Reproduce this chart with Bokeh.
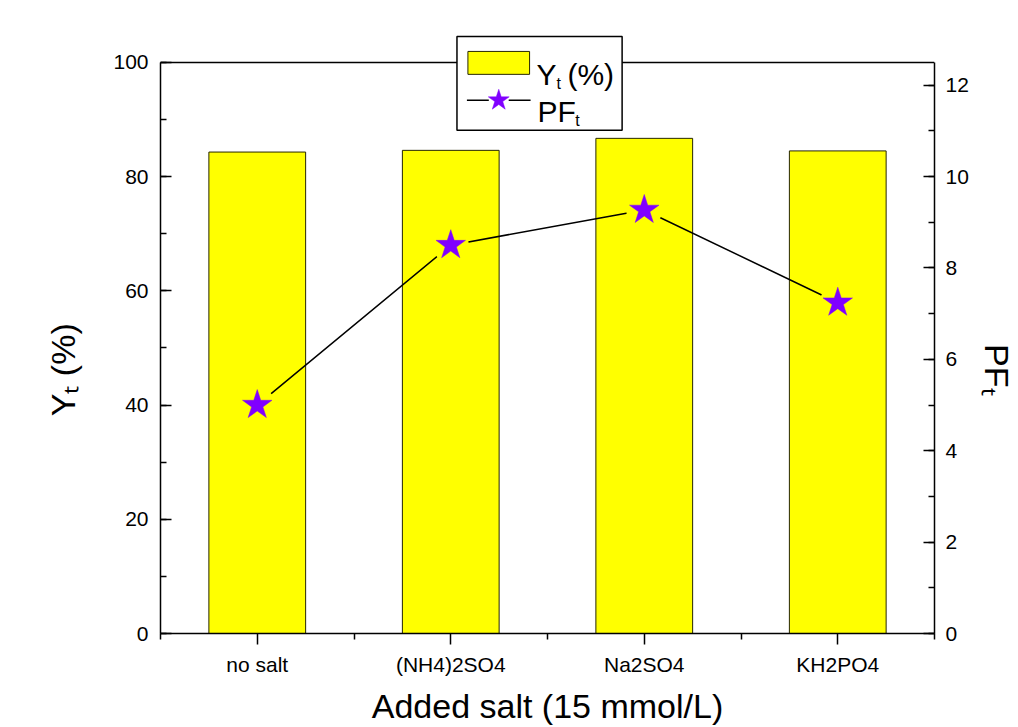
from bokeh.plotting import figure
from bokeh.models import (Range1d, LinearAxis, FixedTicker, ColumnDataSource,
                          SingleIntervalTicker, Span)
from bokeh.embed import file_html
from bokeh.resources import INLINE
from bokeh.core.properties import value

# ---------------- data ----------------
categories = ["no salt", "(NH4)2SO4", "Na2SO4", "KH2PO4"]
yield_pct = [84.3, 84.6, 86.7, 84.5]      # Y_t (%)  - left axis, bars
pf_values = [5.0, 8.5, 9.27, 7.24]         # PF_t     - right axis, stars
left_max = 100
right_max = 12.5
x_title = "Added salt (15 mmol/L)"
y_title = "Y\u209c (%)"
y2_title = "PF\u209c"

# category slots on a numeric axis: slot i spans [i, i+1]
slot_centers = [i + 0.5 for i in range(len(categories))]
slot_edges = list(range(len(categories) + 1))
src = ColumnDataSource(dict(x=slot_centers, cat=categories,
                            y=yield_pct, pf=pf_values))

# ---------------- layout ----------------
FONT = "Liberation Sans"
W, H = 1018, 727
FL, FR, FT, FB = 160, 938, 30, 635          # frame edges on the canvas
top_px = 573                                # px height of 0..left_max
frame_h = FB - FT
y_top = left_max * frame_h / top_px
pf_top = right_max * frame_h / top_px
NB = "\u00a0"                               # non-breaking space (title shift)


# helpers: pixel -> data coords (hand-drawn legend layout)
def nx(px):
    return (px - FL) / ((FR - FL) / len(categories))


def ly(py):
    return (FB - py) / (top_px / left_max)


p = figure(width=W, height=H,
           x_range=Range1d(0, len(categories)),
           y_range=Range1d(0, y_top),
           x_axis_type=None, y_axis_type=None,
           toolbar_location=None, output_backend="svg",
           min_border_left=FL, min_border_right=W - FR,
           min_border_top=FT, min_border_bottom=H - FB)
p.extra_y_ranges = {"pf": Range1d(0, pf_top)}
p.outline_line_color = None
p.background_fill_color = "white"
p.border_fill_color = "white"


def style_axis(ax):
    ax.axis_line_width = 1.5
    ax.major_tick_line_width = 1.5
    ax.minor_tick_line_width = 1.5
    ax.major_label_text_font = FONT
    ax.major_label_text_font_size = "21px"
    ax.major_label_text_color = "black"
    ax.axis_line_color = "black"
    ax.major_tick_line_color = "black"
    ax.minor_tick_line_color = "black"
    ax.axis_label_text_font = FONT
    ax.axis_label_text_font_size = "34px"
    ax.axis_label_text_font_style = "normal"
    ax.axis_label_text_color = "black"


yl = LinearAxis(ticker=SingleIntervalTicker(interval=20, num_minor_ticks=2),
                bounds=(0, left_max), axis_label=y_title + NB * 8)
style_axis(yl)
yl.major_tick_in, yl.major_tick_out = 11, 0
yl.minor_tick_in, yl.minor_tick_out = 6, 0
yl.major_label_standoff = 12
yl.axis_label_standoff = 28
p.add_layout(yl, "left")

yr = LinearAxis(y_range_name="pf",
                ticker=SingleIntervalTicker(interval=2, num_minor_ticks=2),
                bounds=(0, right_max), axis_label=NB * 8 + y2_title)
style_axis(yr)
yr.major_tick_in, yr.major_tick_out = 11, 0
yr.minor_tick_in, yr.minor_tick_out = 6, 0
yr.major_label_standoff = 11
yr.axis_label_standoff = 6
p.add_layout(yr, "right")

xb = LinearAxis(ticker=FixedTicker(ticks=slot_centers, minor_ticks=slot_edges),
                major_label_overrides={c: n for c, n in zip(slot_centers, categories)},
                axis_label=x_title)
style_axis(xb)
xb.major_tick_in, xb.major_tick_out = 0, 11
xb.minor_tick_in, xb.minor_tick_out = 0, 6
xb.major_label_standoff = 8
xb.axis_label_standoff = 8
p.add_layout(xb, "below")

# top frame line at the top of the left scale
p.add_layout(Span(location=left_max, dimension="width", line_color="black",
                  line_width=1.5, level="underlay"))

# ---------------- marks ----------------
p.vbar(x="x", top="y", width=0.5, source=src, fill_color="#FFFF00",
       line_color="#262600", line_width=1)
p.line(x="x", y="pf", source=src, y_range_name="pf", line_color="black",
       line_width=1.5)
p.scatter(x="x", y="pf", source=src, y_range_name="pf", marker="circle",
          size=36, fill_color="#FFFF00", line_color=None)
p.scatter(x="x", y="pf", source=src, y_range_name="pf", marker="star",
          size=31, fill_color="#8000FF", line_color="#8000FF", line_width=0.5)

# ---------------- legend (drawn by hand for subscripts) ----------------
p.quad(left=[nx(458)], right=[nx(624)], bottom=[ly(130)], top=[ly(36)],
       fill_color="white", line_color="black", line_width=1.5)
p.quad(left=[nx(469)], right=[nx(531)], bottom=[ly(74)], top=[ly(51)],
       fill_color="#FFFF00", line_color="#262600", line_width=1)
p.segment(x0=[nx(468), nx(510)], x1=[nx(490), nx(532)],
          y0=[ly(100)] * 2, y1=[ly(100)] * 2,
          line_color="black", line_width=1.5)
p.scatter(x=[nx(500)], y=[ly(100)], marker="star",
          size=22, fill_color="#8000FF", line_color="#8000FF", line_width=0.5)


def legend_text(px, py, txt, size):
    p.text(x=[nx(px)], y=[ly(py)], text=[txt],
           text_font=value(FONT), text_font_size=value(size),
           text_baseline="alphabetic", text_align="left", text_color="black")


legend_text(538, 74, "Y", "30px")
legend_text(558, 83, "t", "16px")
legend_text(569, 74, "(%)", "30px")
legend_text(539, 111, "PF", "30px")
legend_text(577, 120, "t", "16px")

open("out.html", "w").write(file_html(p, INLINE))
